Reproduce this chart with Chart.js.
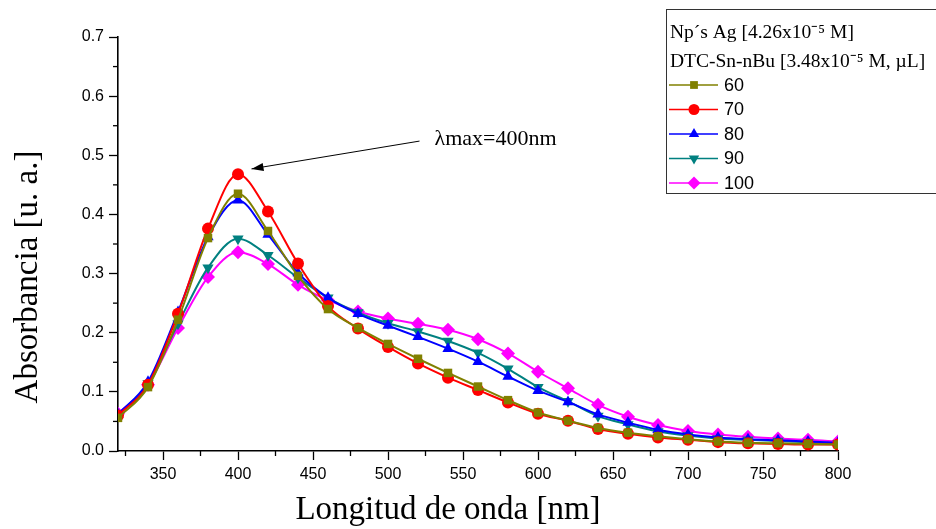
<!DOCTYPE html>
<html>
<head>
<meta charset="utf-8">
<script src="https://cdn.jsdelivr.net/npm/chart.js@4"></script>
<style>
  body { margin: 0; background: #fff; }
  #wrap { position: relative; width: 936px; height: 529px; }
</style>
</head>
<body>
<div id="wrap"><canvas id="uvChart" width="936" height="529"></canvas></div>
<script>
// wavelengths (nm) where the spectra were sampled
const wavelengths = [320, 340, 360, 380, 400, 420, 440, 460, 480, 500, 520, 540, 560,
                     580, 600, 620, 640, 660, 680, 700, 720, 740, 760, 780, 800];

// absorbance for each volume of DTC-Sn-nBu (uL)
const abs60  = [0.056, 0.108, 0.222, 0.360, 0.435, 0.372, 0.296, 0.240, 0.208, 0.181, 0.156, 0.132, 0.109,
                0.086, 0.065, 0.051, 0.039, 0.031, 0.025, 0.020, 0.016, 0.014, 0.013, 0.012, 0.011];
const abs70  = [0.060, 0.112, 0.232, 0.376, 0.468, 0.405, 0.317, 0.245, 0.207, 0.176, 0.148, 0.124, 0.103,
                0.082, 0.063, 0.051, 0.037, 0.029, 0.023, 0.019, 0.015, 0.013, 0.012, 0.011, 0.011];
const abs80  = [0.062, 0.117, 0.235, 0.362, 0.424, 0.366, 0.301, 0.259, 0.232, 0.212, 0.193, 0.173, 0.151,
                0.126, 0.102, 0.083, 0.062, 0.048, 0.036, 0.028, 0.023, 0.020, 0.018, 0.016, 0.014];
const abs90  = [0.061, 0.114, 0.215, 0.310, 0.359, 0.331, 0.293, 0.259, 0.234, 0.216, 0.202, 0.186, 0.166,
                0.139, 0.108, 0.084, 0.059, 0.045, 0.033, 0.026, 0.021, 0.019, 0.017, 0.015, 0.013];
const abs100 = [0.063, 0.112, 0.208, 0.294, 0.336, 0.316, 0.281, 0.255, 0.236, 0.224, 0.215, 0.205, 0.189,
                0.165, 0.134, 0.106, 0.078, 0.058, 0.044, 0.034, 0.028, 0.024, 0.021, 0.019, 0.016];

const seriesLabels = ['60', '70', '80', '90', '100'];
const legendTitle = ['Np\u00B4s Ag [4.26x10\u207B\u2075 M]', 'DTC-Sn-nBu [3.48x10\u207B\u2075 M, \u00B5L]'];
const peakNote = '\u03BBmax=400nm';
const xTitle = 'Longitud de onda [nm]';
const yTitle = 'Absorbancia [u. a.]';

const serif = '"Liberation Serif", "Times New Roman", serif';
const sans = '"Liberation Sans", Arial, sans-serif';

function toPoints(vals) {
    return wavelengths.map((w, i) => ({ x: w, y: vals[i] }));
}

function makeSet(label, vals, color, style, rot) {
    return {
        label: label,
        data: toPoints(vals),
        borderColor: color,
        backgroundColor: color,
        borderWidth: 2,
        pointStyle: style,
        rotation: rot || 0,
        pointRadius: style === 'rectRot' ? 7 : (style === 'triangle' ? 6.5 : 6),
        pointBorderWidth: 0,
        cubicInterpolationMode: 'monotone',
        fill: false
    };
}

// axis titles, minor ticks, the lambda max note and the framed legend
const extras = {
    id: 'extras',
    afterDraw(chart) {
        const ctx = chart.ctx;
        const xs = chart.scales.x, ys = chart.scales.y;
        const area = chart.chartArea;
        ctx.save();

        // axis titles (placed like the original, not centred on the plot area)
        ctx.fillStyle = '#000';
        ctx.font = '33px ' + serif;
        ctx.textAlign = 'center';
        ctx.textBaseline = 'middle';
        ctx.fillText(xTitle, 448, 510);
        ctx.save();
        ctx.translate(28, 277);
        ctx.rotate(-Math.PI / 2);
        ctx.fillText(yTitle, 0, 0);
        ctx.restore();

        ctx.strokeStyle = '#000';
        ctx.lineWidth = 1.3;
        // minor ticks
        for (let v = 325; v < 800; v += 50) {
            const px = xs.getPixelForValue(v);
            ctx.beginPath(); ctx.moveTo(px, area.bottom); ctx.lineTo(px, area.bottom + 5); ctx.stroke();
        }
        for (let v = 0.05; v < 0.7; v += 0.1) {
            const py = ys.getPixelForValue(v);
            ctx.beginPath(); ctx.moveTo(area.left, py); ctx.lineTo(area.left - 5, py); ctx.stroke();
        }

        // arrow to the peak
        const x0 = xs.getPixelForValue(521), y0 = ys.getPixelForValue(0.524);
        const x1 = xs.getPixelForValue(409), y1 = ys.getPixelForValue(0.477);
        ctx.lineWidth = 1;
        ctx.beginPath(); ctx.moveTo(x0, y0); ctx.lineTo(x1, y1); ctx.stroke();
        const ang = Math.atan2(y1 - y0, x1 - x0);
        ctx.beginPath();
        ctx.moveTo(x1, y1);
        ctx.lineTo(x1 - 12 * Math.cos(ang) + 4 * Math.sin(ang), y1 - 12 * Math.sin(ang) - 4 * Math.cos(ang));
        ctx.lineTo(x1 - 12 * Math.cos(ang) - 4 * Math.sin(ang), y1 - 12 * Math.sin(ang) + 4 * Math.cos(ang));
        ctx.closePath(); ctx.fill();
        ctx.font = '22px ' + serif;
        ctx.textAlign = 'left';
        ctx.fillText(peakNote, xs.getPixelForValue(531), ys.getPixelForValue(0.527));

        // legend box
        ctx.lineWidth = 1;
        ctx.strokeStyle = '#333';
        ctx.strokeRect(666.5, 9.5, 280, 184);
        ctx.font = '19.5px ' + serif;
        ctx.fillText(legendTitle[0], 670, 33);
        ctx.fillText(legendTitle[1], 670, 62);
        ctx.font = '18px ' + sans;
        chart.data.datasets.forEach((ds, i) => {
            const y = 85 + i * 24.5;
            ctx.strokeStyle = ds.borderColor;
            ctx.lineWidth = 1.6;
            ctx.beginPath(); ctx.moveTo(669, y); ctx.lineTo(718, y); ctx.stroke();
            ctx.fillStyle = ds.backgroundColor;
            Chart.helpers.drawPoint(ctx, {
                pointStyle: ds.pointStyle,
                rotation: ds.rotation,
                radius: ds.pointRadius - 0.5,
                borderWidth: 0
            }, 694, y);
            ctx.fillStyle = '#000';
            ctx.fillText(ds.label, 724, y + 1);
        });
        ctx.restore();
    }
};

const ctx = document.getElementById('uvChart').getContext('2d');
const uvChart = new Chart(ctx, {
    type: 'line',
    data: {
        datasets: [
            makeSet(seriesLabels[0], abs60, '#808000', 'rect'),
            makeSet(seriesLabels[1], abs70, '#ff0000', 'circle'),
            makeSet(seriesLabels[2], abs80, '#0000ff', 'triangle'),
            makeSet(seriesLabels[3], abs90, '#008080', 'triangle', 180),
            makeSet(seriesLabels[4], abs100, '#ff00ff', 'rectRot')
        ]
    },
    options: {
        responsive: false,
        animation: false,
        layout: { padding: { top: 37, right: 98, left: 0, bottom: 0 } },
        plugins: {
            legend: { display: false },
            tooltip: { enabled: false }
        },
        scales: {
            x: {
                type: 'linear',
                min: 320,
                max: 800,
                grid: { drawOnChartArea: false, tickLength: 9, tickColor: '#000', tickWidth: 1.3 },
                border: { color: '#000', width: 1.6 },
                ticks: {
                    stepSize: 50,
                    includeBounds: false,
                    color: '#000',
                    font: { family: sans, size: 16 },
                    padding: 5,
                    maxRotation: 0
                },
                afterFit(scale) { scale.height = 78; }
            },
            y: {
                min: 0,
                max: 0.7,
                grid: { drawOnChartArea: false, tickLength: 9, tickColor: '#000', tickWidth: 1.3 },
                border: { color: '#000', width: 1.6 },
                ticks: {
                    stepSize: 0.1,
                    color: '#000',
                    font: { family: sans, size: 16 },
                    padding: 5,
                    callback: v => v.toFixed(1)
                },
                afterFit(scale) { scale.width = 118; }
            }
        }
    },
    plugins: [extras]
});
</script>
</body>
</html>
